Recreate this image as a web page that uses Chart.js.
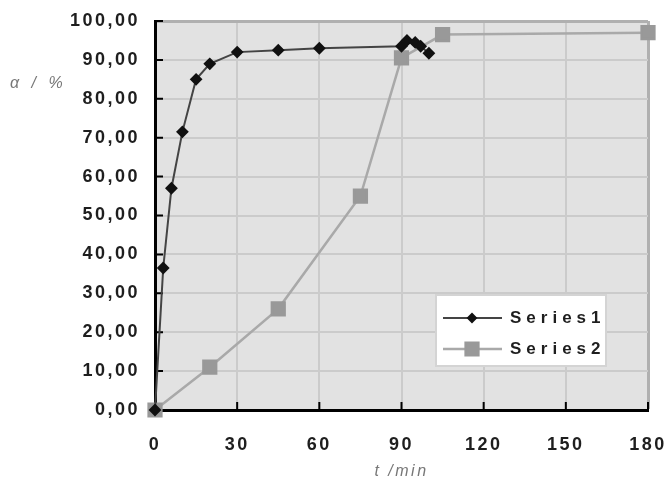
<!DOCTYPE html>
<html lang="en">
<head>
<meta charset="UTF-8">
<title>Conversion against time</title>
<style>
    body {
        margin: 0;
        background: #fff;
    }
    #wrap {
        position: relative;
        width: 666px;
        height: 481px;
    }
</style>
</head>
<body>
<div id="wrap"><canvas id="graph" width="666" height="481"></canvas></div>
<script src="https://cdn.jsdelivr.net/npm/chart.js"></script>
<script>
// data
const seriesNames = ['Series1', 'Series2'];
const series1Time = [0, 3, 6, 10, 15, 20, 30, 45, 60, 90, 92, 95, 97, 100];
const series1Alpha = [0, 36.5, 57, 71.5, 85, 89, 92, 92.5, 93, 93.5, 95, 94.5, 93.5, 91.7];
const series2Time = [0, 20, 45, 75, 90, 105, 180];
const series2Alpha = [0, 11, 26, 55, 90.5, 96.5, 97];
const xTickValues = [0, 30, 60, 90, 120, 150, 180];
const yTickValues = [0, 10, 20, 30, 40, 50, 60, 70, 80, 90, 100];
const xTitle = 't /min';
const yTitle = 'α / %';

function toPoints(xs, ys) {
    return xs.map((x, i) => ({ x: x, y: ys[i] }));
}

// wide lettering like the original
const spacing = {
    id: 'spacing',
    beforeUpdate(chart) { chart.ctx.letterSpacing = '2.5px'; },
    beforeDraw(chart) { chart.ctx.letterSpacing = '2.5px'; }
};

const plotBackground = {
    id: 'plotBackground',
    beforeDraw(chart) {
        const { ctx, chartArea: a } = chart;
        ctx.save();
        ctx.fillStyle = '#e2e2e2';
        ctx.fillRect(a.left, a.top, a.right - a.left, a.bottom - a.top);
        ctx.restore();
    }
};

// tick marks pointing into the plot
const innerTicks = {
    id: 'innerTicks',
    beforeDatasetsDraw(chart) {
        const { ctx, chartArea: a, scales } = chart;
        ctx.save();
        ctx.strokeStyle = '#000';
        ctx.lineWidth = 2;
        ctx.beginPath();
        scales.y.ticks.forEach(t => {
            const py = scales.y.getPixelForValue(t.value);
            ctx.moveTo(a.left, py);
            ctx.lineTo(a.left + 8, py);
        });
        scales.x.ticks.forEach(t => {
            const px = scales.x.getPixelForValue(t.value);
            ctx.moveTo(px, a.bottom);
            ctx.lineTo(px, a.bottom - 8);
        });
        ctx.stroke();
        ctx.restore();
    }
};

// horizontal y title at the top left
const sideTitle = {
    id: 'sideTitle',
    afterDraw(chart) {
        const ctx = chart.ctx;
        ctx.save();
        ctx.letterSpacing = '4px';
        ctx.font = 'italic 16px "Liberation Sans", Arial, sans-serif';
        ctx.fillStyle = '#777';
        ctx.textBaseline = 'middle';
        ctx.textAlign = 'left';
        ctx.fillText(yTitle, 10, 84);
        ctx.restore();
    }
};

// legend box inside the plot
const boxLegend = {
    id: 'boxLegend',
    afterDraw(chart) {
        const { ctx, chartArea: a } = chart;
        const bx = a.left + 281, by = a.top + 274, bw = 170, bh = 71;
        ctx.save();
        ctx.fillStyle = '#fff';
        ctx.fillRect(bx, by, bw, bh);
        ctx.strokeStyle = '#d4d4d4';
        ctx.lineWidth = 2;
        ctx.strokeRect(bx, by, bw, bh);
        chart.data.datasets.forEach((ds, i) => {
            const ly = by + 23 + i * 31;
            ctx.strokeStyle = ds.borderColor;
            ctx.lineWidth = ds.borderWidth;
            ctx.beginPath();
            ctx.moveTo(bx + 7, ly);
            ctx.lineTo(bx + 66, ly);
            ctx.stroke();
            ctx.fillStyle = ds.pointBackgroundColor;
            ctx.strokeStyle = ds.pointBorderColor;
            Chart.helpers.drawPoint(ctx, {
                pointStyle: ds.pointStyle,
                radius: i === 0 ? 4 : 9,
                rotation: 0,
                borderWidth: 1
            }, bx + 36, ly);
            ctx.letterSpacing = '5px';
            ctx.font = 'bold 17px "Liberation Sans", Arial, sans-serif';
            ctx.fillStyle = '#1e1e1e';
            ctx.textBaseline = 'middle';
            ctx.textAlign = 'left';
            ctx.fillText(ds.label, bx + 74, ly);
        });
        ctx.restore();
    }
};

const tickFont = { family: '"Liberation Sans", Arial, sans-serif', size: 18, weight: 'bold' };

new Chart(document.getElementById('graph'), {
    type: 'line',
    data: {
        datasets: [{
            label: seriesNames[0],
            data: toPoints(series1Time, series1Alpha),
            borderColor: '#444',
            borderWidth: 2,
            pointStyle: 'rectRot',
            pointRadius: 5,
            pointBackgroundColor: '#111',
            pointBorderColor: '#111',
            tension: 0,
            clip: false
        }, {
            label: seriesNames[1],
            data: toPoints(series2Time, series2Alpha),
            borderColor: '#a9a9a9',
            borderWidth: 2.5,
            pointStyle: 'rect',
            pointRadius: 9,
            pointBackgroundColor: '#999',
            pointBorderColor: '#999',
            tension: 0,
            clip: false
        }]
    },
    options: {
        responsive: false,
        animation: false,
        events: [],
        layout: { padding: { top: 21, right: 18, left: 0, bottom: 0 } },
        plugins: {
            legend: { display: false },
            tooltip: { enabled: false }
        },
        scales: {
            x: {
                type: 'linear',
                min: 0,
                max: 180,
                afterBuildTicks: s => { s.ticks = xTickValues.map(v => ({ value: v })); },
                afterFit: s => {
                    s.height = 71;
                    s.paddingLeft = 0;
                    s.paddingRight = 0;
                },
                ticks: { font: tickFont, color: '#1e1e1e', padding: 24, maxRotation: 0 },
                grid: {
                    drawTicks: false,
                    color: c => c.tick.value === 180 ? '#b0b0b0' : (c.tick.value === 0 ? 'rgba(0,0,0,0)' : '#cbcbcb'),
                    lineWidth: c => c.tick.value === 180 ? 3 : 2
                },
                border: { color: '#000', width: 3 },
                title: {
                    display: true,
                    text: xTitle,
                    color: '#777',
                    font: { family: '"Liberation Sans", Arial, sans-serif', size: 16, style: 'italic' },
                    padding: { top: 6, bottom: 0 }
                }
            },
            y: {
                min: 0,
                max: 100,
                afterBuildTicks: s => { s.ticks = yTickValues.map(v => ({ value: v })); },
                afterFit: s => {
                    s.width = 155;
                    s.paddingTop = 0;
                    s.paddingBottom = 0;
                },
                ticks: {
                    font: tickFont,
                    color: '#1e1e1e',
                    padding: 15,
                    callback: v => v.toFixed(2).replace('.', ',')
                },
                grid: {
                    drawTicks: false,
                    color: c => c.tick.value === 100 ? '#b0b0b0' : (c.tick.value === 0 ? 'rgba(0,0,0,0)' : '#cbcbcb'),
                    lineWidth: c => c.tick.value === 100 ? 3 : 2
                },
                border: { color: '#000', width: 3 }
            }
        }
    },
    plugins: [spacing, plotBackground, innerTicks, sideTitle, boxLegend]
});
</script>
</body>
</html>
